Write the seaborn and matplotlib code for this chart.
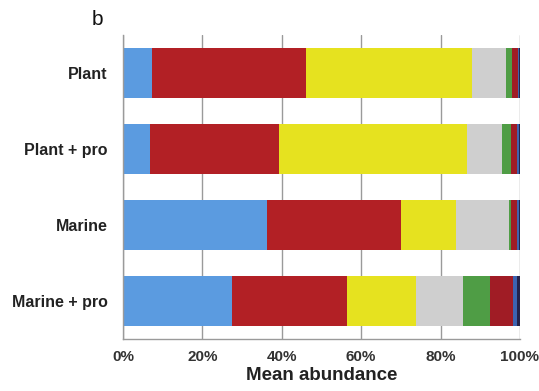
import matplotlib
matplotlib.use("Agg")
import matplotlib.pyplot as plt
import seaborn as sns
import pandas as pd
import numpy as np

samples = ["Plant", "Plant + pro", "Marine", "Marine + pro"]
groups = ["g1", "g2", "g3", "g4", "g5", "g6", "g7", "g8"]
plant = [7.2, 38.8, 42.0, 8.5, 1.4, 1.5, 0.4, 0.2]
plant_pro = [6.8, 32.5, 47.4, 8.7, 2.3, 1.5, 0.6, 0.2]
marine = [36.3, 33.7, 13.9, 13.4, 0.5, 1.5, 0.5, 0.2]
marine_pro = [27.5, 28.9, 17.4, 11.8, 6.8, 5.9, 1.0, 0.7]
colors = ["#5b9be0", "#b22025", "#e6e21f", "#cfcfcf", "#4f9d45", "#a01c25", "#3d64b0", "#23234a"]
xticks = [0, 20, 40, 60, 80, 100]
xticklabels = ["0%", "20%", "40%", "60%", "80%", "100%"]

sns.set_style("white")
plt.rcParams['font.family'] = ['Liberation Sans', 'DejaVu Sans']

values = np.array([plant, plant_pro, marine, marine_pro])
cum = values.cumsum(axis=1)

fig = plt.figure(figsize=(5.39, 3.91), dpi=100)
ax = fig.add_axes([0.2282, 0.133, 0.7365, 0.7775])

for x in xticks:
    ax.axvline(x, color="#9a9a9a", lw=1.0, zorder=0)

for j in range(len(groups) - 1, -1, -1):
    df = pd.DataFrame({"sample": samples, "cum": cum[:, j]})
    sns.barplot(data=df, x="cum", y="sample", order=samples, color=colors[j],
                orient="h", width=0.65, saturation=1, ax=ax, zorder=2,
                edgecolor="none", linewidth=0)

ax.set_xlim(0, 100)
ax.set_ylim(3.5, -0.5)
ax.set_xticks(xticks)
ax.set_xticklabels(xticklabels, fontsize=11, fontweight="bold", color="#333333")
ax.tick_params(axis="y", labelsize=11.5, length=0, pad=11)
ax.tick_params(axis="x", length=0, pad=8)
for lab in ax.get_yticklabels():
    lab.set_fontweight("bold")
    lab.set_color("#222222")
ax.set_ylabel("")
ax.set_xlabel("Mean abundance", fontsize=13.5, fontweight="bold", color="#222222", labelpad=2)
for s in ["top", "right"]:
    ax.spines[s].set_visible(False)
for s in ["left", "bottom"]:
    ax.spines[s].set_color("#9a9a9a")
    ax.spines[s].set_linewidth(1.0)

fig.text(0.18, 0.95, "b", fontsize=15, ha="center", va="center", color="#111111")

fig.savefig("out.png", dpi=100)
